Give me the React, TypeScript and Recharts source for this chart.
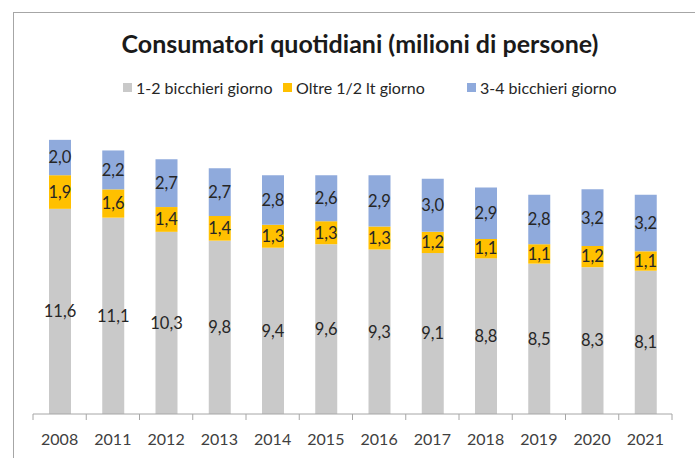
import { BarChart, Bar, XAxis, YAxis, LabelList } from "recharts";

const YEARS = ["2008", "2011", "2012", "2013", "2014", "2015", "2016", "2017", "2018", "2019", "2020", "2021"];
const LOW = [11.6, 11.1, 10.3, 9.8, 9.4, 9.6, 9.3, 9.1, 8.8, 8.5, 8.3, 8.1];
const HEAVY = [1.9, 1.6, 1.4, 1.4, 1.3, 1.3, 1.3, 1.2, 1.1, 1.1, 1.2, 1.1];
const MID = [2.0, 2.2, 2.7, 2.7, 2.8, 2.6, 2.9, 3.0, 2.9, 2.8, 3.2, 3.2];

const SERIES = [
  { key: "low", name: "1-2 bicchieri giorno", color: "#c9c9c9" },
  { key: "heavy", name: "Oltre 1/2 lt giorno", color: "#ffc000" },
  { key: "mid", name: "3-4 bicchieri giorno", color: "#8faadc" },
];

const data = YEARS.map((year, i) => ({ year, low: LOW[i], heavy: HEAVY[i], mid: MID[i] }));

const FONT = "Lato, 'Open Sans', sans-serif";
const W = 695;
const H = 458;
const M = { top: 131, right: 23, bottom: 14, left: 33 };
const STEP = (W - M.left - M.right) / YEARS.length;
const LEGEND_X = [123, 283, 467];

const fmt = (v: any) => Number(v).toFixed(1).replace(".", ",");

function YearTick(props: any) {
  const { x, y, payload, index } = props;
  const last = index === YEARS.length - 1;
  return (
    <g>
      <line x1={x - STEP / 2} x2={x - STEP / 2} y1={y} y2={y + 6} stroke="#a6a6a6" />
      {last && <line x1={x + STEP / 2} x2={x + STEP / 2} y1={y} y2={y + 6} stroke="#a6a6a6" />}
      <text x={x} y={y + 31} textAnchor="middle" fill="#404040" fontSize={16} fontFamily={FONT}>
        {payload.value}
      </text>
    </g>
  );
}

export default function App() {
  return (
    <div style={{ position: "absolute", left: 0, top: 0, width: W, height: H, background: "#fff", overflow: "hidden", fontFamily: FONT }}>
      <div
        style={{
          position: "absolute",
          left: 13,
          top: 12,
          width: W,
          height: H,
          borderLeft: "1px solid #a6a6a6",
          borderTop: "1px solid #a6a6a6",
        }}
      />
      <div
        style={{
          position: "absolute",
          left: 0,
          width: 720,
          top: 29,
          lineHeight: "28px",
          textAlign: "center",
          fontSize: 25,
          fontWeight: 700,
          color: "#1a1a1a",
        }}
      >
        Consumatori quotidiani (milioni di persone)
      </div>
      {SERIES.map((s, i) => (
        <div
          key={s.key}
          style={{
            position: "absolute",
            left: LEGEND_X[i],
            top: 78,
            display: "flex",
            alignItems: "center",
            fontSize: 16,
            color: "#262626",
            whiteSpace: "nowrap",
          }}
        >
          <span style={{ display: "inline-block", width: 9, height: 9, background: s.color, marginRight: 4 }} />
          {s.name}
        </div>
      ))}
      <div style={{ position: "absolute", left: 0, top: 0 }}>
        <BarChart width={W} height={H} data={data} margin={M} barSize={22}>
          <YAxis hide domain={[0, 16]} />
          <XAxis
            dataKey="year"
            axisLine={{ stroke: "#a6a6a6" }}
            tickLine={false}
            tickSize={0}
            tickMargin={0}
            height={30}
            interval={0}
            tick={<YearTick />}
          />
          {SERIES.map((s) => (
            <Bar key={s.key} dataKey={s.key} name={s.name} stackId="a" fill={s.color} isAnimationActive={false}>
              <LabelList dataKey={s.key} position="center" formatter={fmt} fill="#262626" fontSize={16.5} fontFamily={FONT} />
            </Bar>
          ))}
        </BarChart>
      </div>
    </div>
  );
}
